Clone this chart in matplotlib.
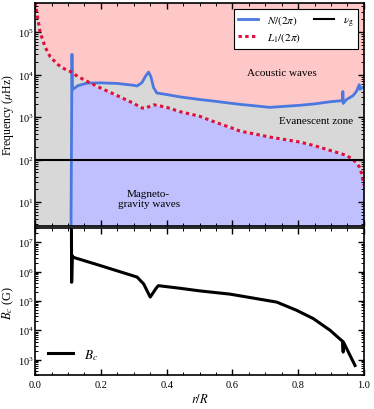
"""
Propagation diagram and critical field
"""

import matplotlib
matplotlib.use("Agg")
import matplotlib.pyplot as plt
import numpy as np


# ==========================================================
# Data
# ==========================================================

r_top = [0.000, 0.005, 0.015, 0.030, 0.046, 0.070, 0.090, 0.108, 0.112,
         0.113, 0.130, 0.157, 0.200, 0.250, 0.300, 0.310, 0.325, 0.335,
         0.345, 0.352, 0.360, 0.370, 0.400, 0.440, 0.500, 0.540, 0.600,
         0.623, 0.714, 0.805, 0.850, 0.897, 0.935, 0.936, 0.937, 0.947,
         0.967, 0.977, 0.986, 0.988, 0.992, 0.996, 1.000]

# buoyancy frequency N/(2 pi) in muHz (0.1 = below the plot, i.e. no N)
N_freq = [0.1, 0.1, 0.1, 0.1, 0.1, 0.1, 0.1, 0.1, 3.0e4,
          4.4e3, 5.5e3, 6.3e3, 6.4e3, 6.2e3, 5.6e3, 5.4e3, 6.5e3, 9.0e3,
          1.15e4, 9.0e3, 5.0e3, 3.7e3, 3.4e3, 3.0e3, 2.6e3, 2.4e3, 2.1e3,
          2.0e3, 1.7e3, 1.9e3, 2.05e3, 2.3e3, 2.45e3, 4.0e3, 2.1e3, 2.6e3,
          3.2e3, 4.0e3, 5.8e3, 4.5e3, 4.8e3, 5.0e3, 5.0e3]

# Lamb frequency L1/(2 pi) in muHz
L1_freq = [5.0e5, 2.9e5, 1.0e5, 4.5e4, 2.6e4, 1.7e4, 1.35e4, 1.17e4, 1.12e4,
           1.1e4, 9.0e3, 7.0e3, 4.8e3, 3.2e3, 2.1e3, 1.9e3, 1.65e3, 1.6e3,
           1.75e3, 1.85e3, 1.95e3, 1.9e3, 1.7e3, 1.35e3, 1.05e3, 800, 550,
           470, 340, 260, 213, 165, 135, 134, 133, 126,
           100, 85, 68, 62, 50, 36, 25]

nu_g = 100.0

r_bc = [0.110, 0.111, 0.113, 0.114, 0.198, 0.310, 0.330, 0.350, 0.370,
        0.375, 0.440, 0.500, 0.593, 0.735, 0.795, 0.846, 0.897, 0.935,
        0.937, 0.938, 0.973]

B_c = [3e8, 4.3e5, 3.5e6, 3.1e6, 1.6e6, 6.5e5, 3.8e5, 1.35e5, 2.9e5,
       3.3e5, 2.7e5, 2.2e5, 1.7e5, 9.1e4, 4.8e4, 2.5e4, 1.0e4, 4.2e3,
       1.8e3, 3.9e3, 6.3e2]


# ==========================================================
# Style
# ==========================================================

plt.rcParams["font.family"] = ["Liberation Serif", "DejaVu Serif"]
plt.rcParams["mathtext.fontset"] = "stix"
plt.rcParams["font.size"] = 8
plt.rcParams["axes.linewidth"] = 1.2


def style_axis(ax):

    ax.set_yscale("log")

    ax.tick_params(which="both", direction="in", top=True, right=True,
                   labelsize=7.5)
    ax.tick_params(which="major", length=4, width=1.0)
    ax.tick_params(which="minor", length=2.2, width=0.7)
    ax.tick_params(axis="y", pad=1.0)

    ax.xaxis.set_minor_locator(matplotlib.ticker.MultipleLocator(0.05))


# ==========================================================
# Figure
# ==========================================================

fig = plt.figure(figsize=(3.74, 4.10), dpi=100)

ax1 = fig.add_axes([0.094, 0.447, 0.879, 0.543])
ax2 = fig.add_axes([0.094, 0.083, 0.879, 0.358])

r = np.array(r_top)
N = np.array(N_freq)
L1 = np.array(L1_freq)

low = np.minimum(N, L1)
high = np.maximum(N, L1)

ax1.fill_between(r, 1e-2, low, color="#c0c0ff", lw=0)
ax1.fill_between(r, low, high, color="#d8d8d8", lw=0)
ax1.fill_between(r, high, 1e7, color="#ffc8c8", lw=0)

ax1.plot(r, N, color="#4a78e0", lw=2.0, label=r"$N/(2\pi)$")
ax1.plot(r, L1, color="#e0103c", lw=2.2, ls=(0, (1.1, 1.1)),
         label=r"$L_1/(2\pi)$")
ax1.axhline(nu_g, color="black", lw=1.5, label=r"$\nu_{\rm g}$")

ax1.text(0.75, 1.15e4, "Acoustic waves", ha="center", va="center")
ax1.text(0.855, 8.5e2, "Evanescent zone", ha="center", va="center")
ax1.text(0.345, 12, "Magneto-\ngravity waves", ha="center", va="center",
         linespacing=1.1)

style_axis(ax1)
ax1.set_xlim(0, 1)
ax1.set_ylim(2.8, 4.8e5)
ax1.tick_params(labelbottom=False)
ax1.set_ylabel(r"Frequency ($\mu$Hz)", fontsize=8.5, labelpad=1.5)

handles, labels = ax1.get_legend_handles_labels()
leg = ax1.legend(
    handles,
    labels,
    ncol=2,
    loc="upper right",
    fancybox=False,
    framealpha=1,
    edgecolor="black",
    handlelength=1.8,
    columnspacing=1.2,
    labelspacing=0.3,
    borderaxespad=0.5,
)
leg.get_frame().set_linewidth(0.8)

ax2.plot(r_bc, B_c, color="black", lw=2.2, label=r"$B_c$")

style_axis(ax2)
ax2.set_xlim(0, 1)
ax2.set_ylim(3e2, 3e7)
ax2.set_xlabel(r"$r/R$", fontsize=9, labelpad=2)
ax2.set_ylabel(r"$B_c$ (G)", fontsize=9, labelpad=1.5)

ax2.legend(loc="lower left", frameon=False, handlelength=1.9,
           borderaxespad=0.6, fontsize=9.5)

fig.savefig("out.png", dpi=100)
plt.close(fig)
